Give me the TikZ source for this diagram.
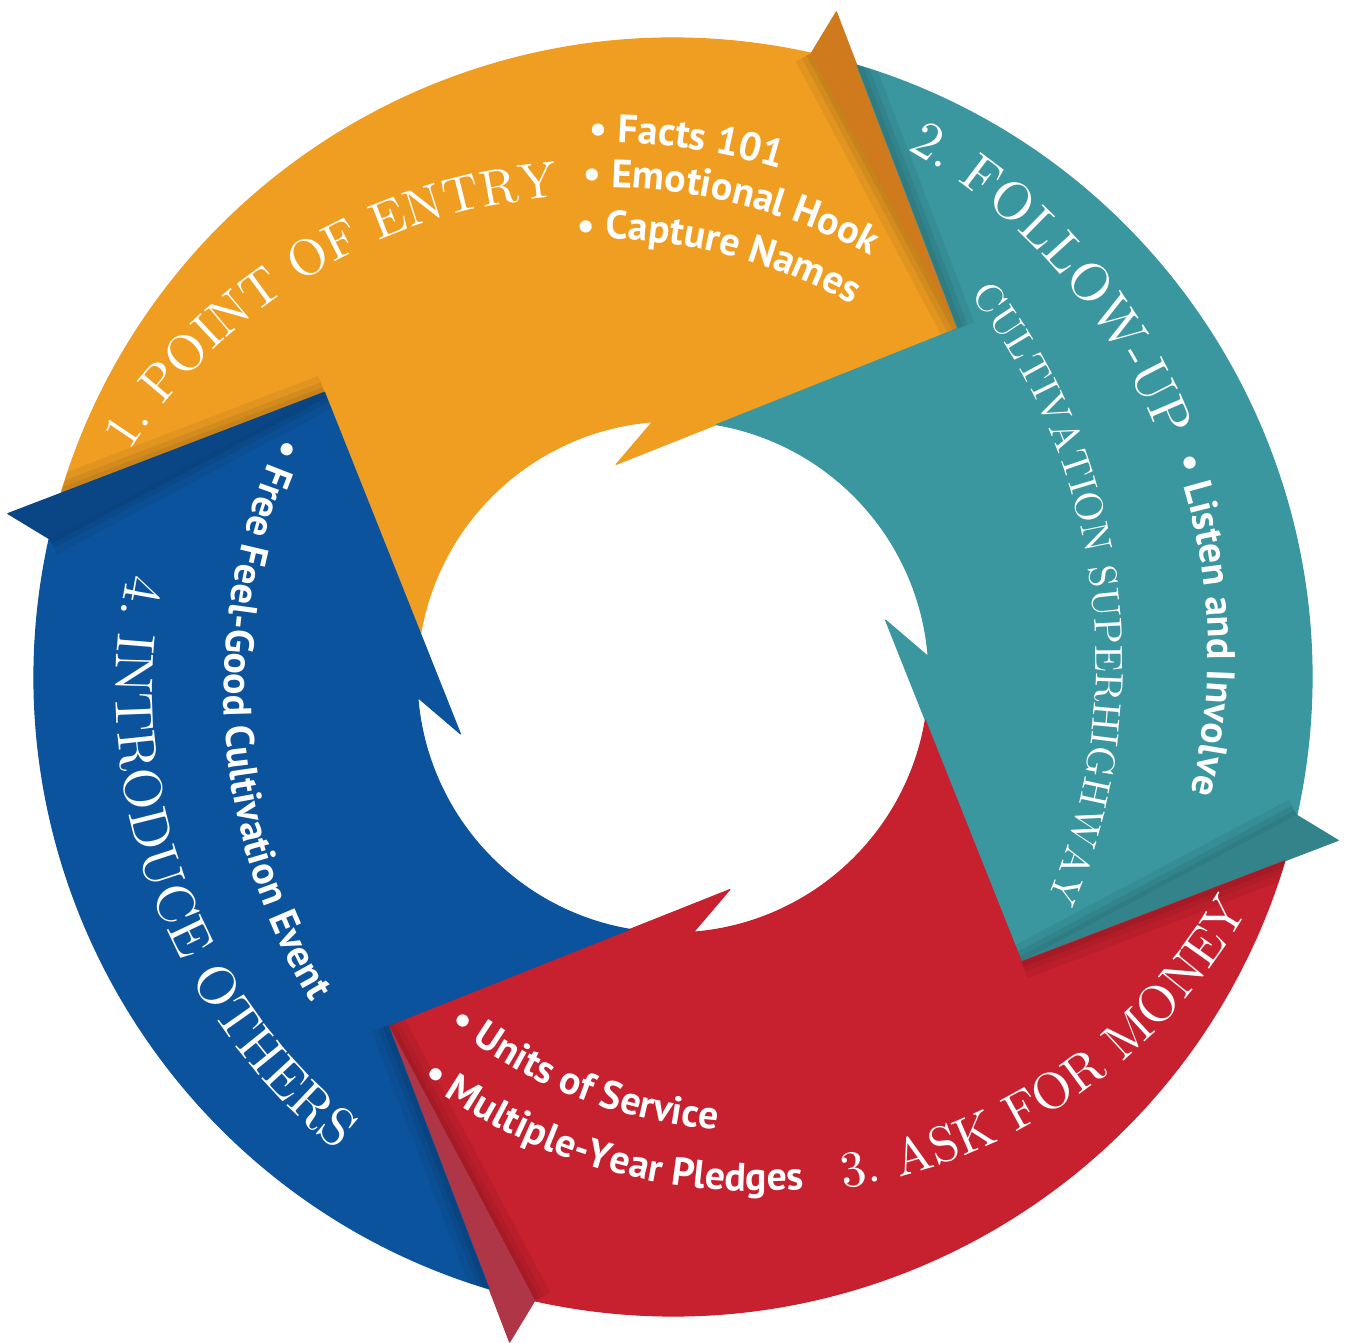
\documentclass[tikz,border=0pt]{standalone}
\usepackage{fontspec}
\usetikzlibrary{decorations.text}

\newfontfamily\ptsans{PT Sans}
\newfontfamily\titleserif{lmroman10-regular}[Extension=.otf]
\newcommand{\titlefont}[1][15.2]{\titleserif\fontsize{#1}{18}\selectfont}
\newcommand{\subtitlefont}{\titleserif\fontsize{11.2}{13}\selectfont}
\newcommand{\itemfont}{\ptsans\bfseries\fontsize{11.3}{13}\selectfont}

\definecolor{entryorange}{RGB}{240,158,33}
\definecolor{entryflap}{RGB}{208,122,30}
\definecolor{followteal}{RGB}{58,150,159}
\definecolor{followflap}{RGB}{50,131,138}
\definecolor{askred}{RGB}{199,32,46}
\definecolor{askflap}{RGB}{175,54,70}
\definecolor{introblue}{RGB}{12,83,157}
\definecolor{introflap}{RGB}{10,69,133}

% one arrow of the ring, head at the upper right
\newcommand{\bandpath}{(170.28:256) -- (140.75:450) -- (163.28:639)
  arc[start angle=163.28, end angle=77.5, radius=639] -- (50.75:450)
  -- (105:220) -- (94.6:256) arc[start angle=94.6, end angle=170.28, radius=256] -- cycle}

\tikzset{
  ringtext/.style={decorate, decoration={text along path, text color=white, text={#1}}}
}

\begin{document}
\begin{tikzpicture}[x=0.01cm, y=0.01cm]
  \useasboundingbox (-673,-666) rectangle (673,677);

  \foreach \k/\bandcol/\flapcol in {0/entryorange/entryflap, 1/followteal/followflap, 2/askred/askflap, 3/introblue/introflap} {
    \begin{scope}[rotate=-90*\k]
      \fill[\bandcol, draw=\bandcol, line width=0.3pt, line join=round] \bandpath;
      \begin{scope}
        \clip \bandpath;
        \foreach \w in {10,6,3}
          \draw[black, opacity=0.06, line width=\w pt] (50.75:450) -- (77.5:639) (140.75:450) -- (166.2:685);
      \end{scope}
      \fill[\flapcol, draw=\flapcol, line width=0.3pt, line join=round] (77.5:639) -- (76.2:685) -- (50.75:450) -- cycle;
    \end{scope}
  }

  % 1
  \path[shift={(-73,-77)}, ringtext={|\titlefont[14.5]|1. POINT OF ENTRY}] (147.3:559) arc[start angle=147.3, end angle=80, radius=559];
  \path[shift={(-73,-77)}, ringtext={|\itemfont|• Facts 101}] (91:612) arc[start angle=91, end angle=50, radius=612];
  \path[shift={(-73,-77)}, ringtext={|\itemfont|• Emotional Hook}] (91.7:567) arc[start angle=91.7, end angle=40, radius=567];
  \path[shift={(-73,-77)}, ringtext={|\itemfont|• Capture Names}] (92.5:515) arc[start angle=92.5, end angle=40, radius=515];

  % 2
  \path[shift={(-49,25)}, ringtext={|\titlefont|2. FOLLOW-UP}] (60.6:577) arc[start angle=60.6, end angle=0, radius=577];
  \path[shift={(-49,25)}, ringtext={|\itemfont|• Listen and Involve}] (19.3:584) arc[start angle=19.3, end angle=-40, radius=584];
  \path[shift={(-178,15)}, ringtext={|\subtitlefont|CULTIVATION SUPERHIGHWAY}] (37.7:601) arc[start angle=37.7, end angle=-40, radius=601];

  % 3
  \path[shift={(84,48)}, ringtext={|\titlefont[14.6]|3. ASK FOR MONEY}] (-81.2:566) arc[start angle=-81.2, end angle=-10, radius=566];
  \path[shift={(84,48)}, ringtext={|\itemfont|• Multiple-Year Pledges}] (-126.7:562) arc[start angle=-126.7, end angle=-60, radius=562];
  \path[shift={(84,48)}, ringtext={|\itemfont|• Units of Service}] (-127.9:502) arc[start angle=-127.9, end angle=-60, radius=502];

  % 4
  \path[shift={(33,-13)}, ringtext={|\titlefont[15.4]|4. INTRODUCE OTHERS}] (168.6:590) arc[start angle=168.6, end angle=240, radius=590];
  \path[shift={(152,-13)}, ringtext={|\itemfont|• Free Feel-Good Cultivation Event}] (155.1:601) arc[start angle=155.1, end angle=230, radius=601];
\end{tikzpicture}
\end{document}
